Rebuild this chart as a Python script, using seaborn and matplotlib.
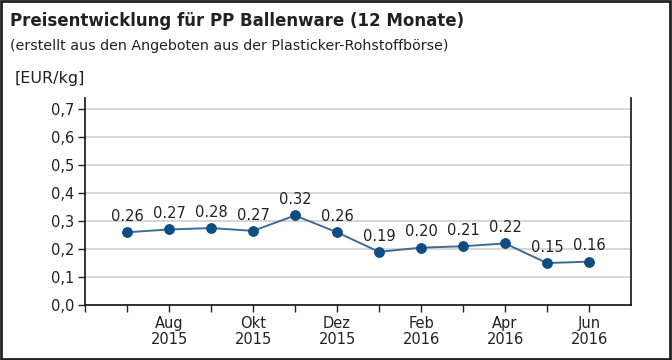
import seaborn as sns
import matplotlib.pyplot as plt
import pandas as pd
from matplotlib.patches import Rectangle

# Daten (Jul 2015 - Jun 2016)
monate = ['Jul 2015', 'Aug 2015', 'Sep 2015', 'Okt 2015', 'Nov 2015', 'Dez 2015',
          'Jan 2016', 'Feb 2016', 'Mär 2016', 'Apr 2016', 'Mai 2016', 'Jun 2016']
preise = [0.26, 0.27, 0.275, 0.265, 0.32, 0.26, 0.19, 0.205, 0.21, 0.22, 0.15, 0.155]
labels = ['0.26', '0.27', '0.28', '0.27', '0.32', '0.26', '0.19', '0.20', '0.21', '0.22', '0.15', '0.16']
tick_labels = ['', '', 'Aug\n2015', '', 'Okt\n2015', '', 'Dez\n2015', '', 'Feb\n2016', '', 'Apr\n2016', '', 'Jun\n2016']
y_ticks = [0.0, 0.1, 0.2, 0.3, 0.4, 0.5, 0.6, 0.7]

df = pd.DataFrame({'pos': range(1, len(preise) + 1), 'preis': preise})

sns.set_style('white')
plt.rcParams['font.family'] = ['DejaVu Sans']

fig = plt.figure(figsize=(6.72, 3.6), dpi=100)
ax = fig.add_axes([85 / 672, 1 - 305 / 360, (631 - 85) / 672, (305 - 98) / 360])

sns.lineplot(data=df, x='pos', y='preis', ax=ax, color='#3f6b96', linewidth=1.4,
             marker='o', markersize=7, markerfacecolor='#0f4c81', markeredgecolor='#0f4c81')

for x, y, t in zip(df['pos'], preise, labels):
    ax.annotate(t, (x, y), xytext=(0, 6), textcoords='offset points', ha='center', va='bottom',
                fontsize=10.5, color='#222222')

ax.set_xlim(0, 13)
ax.set_ylim(0, 0.74)
ax.set_xticks(range(0, 13))
ax.set_xticklabels(tick_labels, fontsize=10.5, color='#222222', linespacing=1.05)
ax.set_yticks(y_ticks)
ax.set_yticklabels([f'{v:.1f}'.replace('.', ',') for v in y_ticks], fontsize=10.5, color='#222222')
ax.tick_params(axis='both', direction='out', length=5, width=1, color='#222222', left=True, bottom=True,
               pad=3)
ax.grid(axis='y', color='#d0d0d0', linewidth=1.2)
ax.set_axisbelow(True)
ax.set_xlabel('')
ax.set_ylabel('')
for s in ['left', 'bottom', 'right']:
    ax.spines[s].set_color('#111111')
    ax.spines[s].set_linewidth(1.2)
ax.spines['top'].set_visible(False)

fig.text(10 / 672, 1 - 21 / 360, 'Preisentwicklung für PP Ballenware (12 Monate)',
         fontsize=12, fontweight='bold', va='center', color='#222222')
fig.text(10 / 672, 1 - 46 / 360, '(erstellt aus den Angeboten aus der Plasticker-Rohstoffbörse)',
         fontsize=10.3, va='center', color='#222222')
fig.text(15 / 672, 1 - 79 / 360, '[EUR/kg]', fontsize=11.5, va='center', color='#222222')

fig.patches.append(Rectangle((0.002, 0.004), 0.995, 0.992, transform=fig.transFigure,
                             fill=False, edgecolor='#222222', linewidth=2))

fig.savefig('out.png', dpi=100)
